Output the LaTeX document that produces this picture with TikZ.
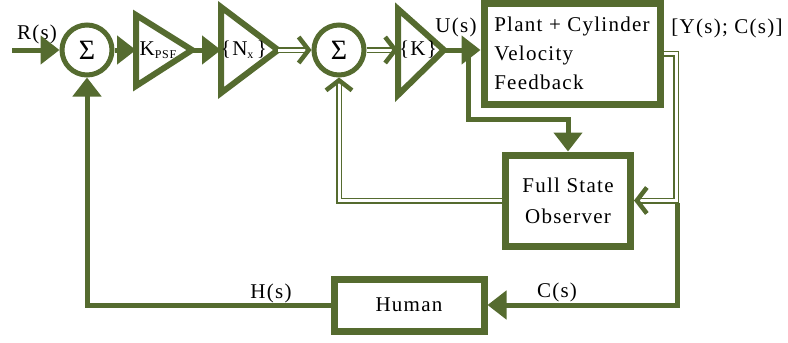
\documentclass[tikz,border=0pt]{standalone}
\usepackage{fontspec}
\setmainfont[LetterSpace=6]{Liberation Serif}
\usetikzlibrary{arrows.meta,decorations.markings}
\definecolor{diagramGreen}{RGB}{85,107,47}

\begin{document}
\begin{tikzpicture}
[x=1pt,y=-1pt,
  font=\fontsize{21}{29}\selectfont,
  lineDecorate/.style={draw=diagramGreen,line width=5pt},
  arrowDecorate/.style={lineDecorate,-{Triangle[length=19pt,width=28pt]}},
  doubleDecorate/.style={draw=diagramGreen,double=white,line width=1.5pt,
    double distance=3pt,shorten >=3pt,
    decoration={markings,mark=at position 1 with
      {\arrow[diagramGreen,line width=4.5pt]{Straight Barb[length=10pt,width=26pt]}}},
    postaction={decorate}},
  blockDecorate/.style={draw=diagramGreen,line width=7pt,fill=white,inner sep=0pt},
  sumDecorate/.style={shape=circle,draw=diagramGreen,line width=5pt,
    minimum size=50pt,inner sep=0pt,font=\fontsize{28}{28}\selectfont},
  gainDecorate/.style={draw=diagramGreen,line width=6pt,line join=miter}]
\useasboundingbox (0,0) rectangle (788,343);
%% summing junctions
\foreach \nodename/\x in {sumOne/87, sumTwo/339}
{
  \node (\nodename) at (\x,50) [sumDecorate] {Σ};
}
%% gain triangles
\foreach \nodename/\xl/\yt/\yb/\xa in {
  psf/136/15/86/192, nx/221/7/93/278, k/398/9/95/444}
{
  \draw[gainDecorate] (\xl,\yt) -- (\xa,50) -- (\xl,\yb) -- cycle;
  \coordinate (\nodename In) at (\xl,50);
  \coordinate (\nodename Out) at (\xa,50);
}
\node (psfText) at (158,50) {K{\fontsize{12}{12}\selectfont\raisebox{-3pt}{PSF}}};
\node (nxText) at (244,50) {\{N{\fontsize{12}{12}\selectfont\raisebox{-3pt}{x}}\,\}};
\node (kText) at (418,50) {\{K\}};
%% blocks
\node (plant) at (572,53.5) [blockDecorate,minimum width=176pt,minimum height=101pt,
  align=left] {Plant + Cylinder\\Velocity\\Feedback};
\node (observer) at (568,200.5) [blockDecorate,minimum width=125pt,minimum height=91pt,
  align=center,font=\fontsize{21}{31}\selectfont] {Full State\\Observer};
\node (human) at (409,305) [blockDecorate,minimum width=150pt,minimum height=52pt] {Human};
%% signal labels
\node (rLabel) at (37,34) {R(s)};
\node (uLabel) at (456,27) {U(s)};
\node (yLabel) at (727,28) {[Y(s); C(s)]};
\node (hLabel) at (271,293) {H(s)};
\node (cLabel) at (557,292) {C(s)};
%% corner points
\coordinate (rStart) at (12,50);
\coordinate (uBranch) at (468,50);
\coordinate (uBend) at (468,119);
\coordinate (yCorner) at (676,53.5);
\coordinate (cBranch) at (677,203);
%% connectors
\draw[arrowDecorate] (rStart) -- (sumOne);
\draw[arrowDecorate] (sumOne) -- (psfIn);
\draw[arrowDecorate] (psfOut) -- (nxIn);
\draw[doubleDecorate] (nxOut) -- (sumTwo);
\draw[doubleDecorate] (sumTwo) -- (kIn);
\draw[arrowDecorate] (kOut) -- (kOut -| plant.west);
\draw[arrowDecorate] (uBranch) -- (uBend) -| (observer.north);
\draw[doubleDecorate] (plant.east |- yCorner) -- (yCorner) |- (observer.east);
\draw[arrowDecorate] (cBranch) |- (human.east);
\draw[arrowDecorate] (human.west) -| (sumOne.south);
\draw[doubleDecorate] (observer.west) -| (sumTwo.south);
\end{tikzpicture}
\end{document}
